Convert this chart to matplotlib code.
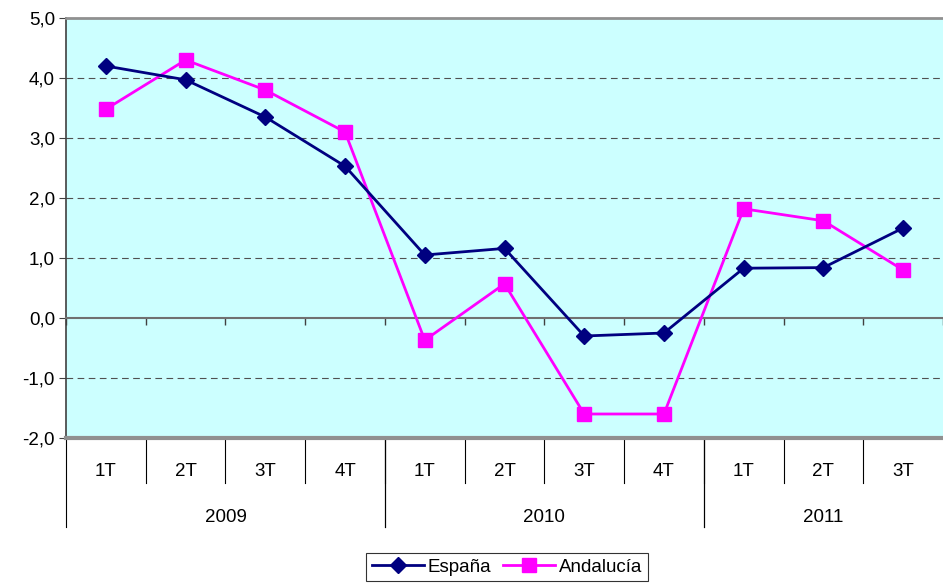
import numpy as np
import matplotlib.pyplot as plt
from matplotlib.ticker import FuncFormatter

plt.rcParams['font.family'] = ['Liberation Sans', 'DejaVu Sans']

quarters = ['1T', '2T', '3T', '4T', '1T', '2T', '3T', '4T', '1T', '2T', '3T']
years = ['2009', '2010', '2011']
year_len = [4, 4, 3]
espana = [4.20, 3.97, 3.35, 2.53, 1.05, 1.16, -0.30, -0.25, 0.83, 0.84, 1.50]
andalucia = [3.48, 4.30, 3.80, 3.10, -0.37, 0.57, -1.60, -1.60, 1.82, 1.62, 0.80]

fs = 13.5

fig = plt.figure(figsize=(9.43, 5.84), dpi=100)
ax = fig.add_axes([66/943, 1-438/584, 1-66/943, 420/584])
ax.set_facecolor('#CCFFFF')

n = len(quarters)
x = np.arange(n) + 0.5
ax.set_xlim(0, n)
ax.set_ylim(-2, 5)

for v in range(-1, 5):
    if v != 0:
        ax.axhline(v, color='#505050', lw=0.8, ls=(0, (6, 4)), zorder=1)

ln1, = ax.plot(x, espana, color='#000080', lw=2, marker='D', ms=8, zorder=4, label='España')
ln2, = ax.plot(x, andalucia, color='#FF00FF', lw=2, marker='s', ms=10, zorder=3, label='Andalucía')

# eje horizontal en cero
ax.spines['bottom'].set_position(('data', 0))
ax.spines['bottom'].set_color('#707070')
ax.spines['bottom'].set_linewidth(1.5)
ax.spines['top'].set_color('#909090')
ax.spines['top'].set_linewidth(2)
ax.spines['right'].set_visible(False)
ax.spines['left'].set_color('#404040')
ax.spines['left'].set_linewidth(1.2)
ax.axhline(-2, color='#909090', lw=3, zorder=5, clip_on=False)

ax.set_xticks(np.arange(n + 1))
ax.set_xticklabels([])
ax.tick_params(axis='x', direction='out', length=5, color='#404040', width=1)
ax.set_yticks(range(-2, 6))
ax.yaxis.set_major_formatter(FuncFormatter(lambda v, p: f'{v:.1f}'.replace('.', ',')))
ax.tick_params(axis='y', direction='out', length=5, color='#404040', labelsize=fs, pad=3)

# categorias debajo del grafico
trans = ax.get_xaxis_transform()
for i, q in enumerate(quarters):
    ax.text(x[i], -0.08, q, transform=trans, ha='center', va='center', fontsize=fs)
for i in range(1, n):
    ax.plot([i, i], [0, -0.107], transform=trans, color='black', lw=0.8, clip_on=False)
start = 0
for yname, length in zip(years, year_len):
    ax.text(start + length / 2, -0.19, yname, transform=trans, ha='center', va='center', fontsize=fs)
    ax.plot([start, start], [0, -0.212], transform=trans, color='black', lw=0.8, clip_on=False)
    start += length
    if start < n:
        ax.plot([start, start], [0, -0.212], transform=trans, color='black', lw=0.8, clip_on=False)

leg = fig.legend(handles=[ln1, ln2], loc='center', bbox_to_anchor=(507/943, 1-567/584),
                 ncol=2, frameon=True, fancybox=False, edgecolor='black', fontsize=fs,
                 handlelength=2.8, handletextpad=0.2, columnspacing=0.6, borderpad=0.3,
                 borderaxespad=0)
leg.get_frame().set_linewidth(0.8)

fig.savefig('out.png', dpi=100)
